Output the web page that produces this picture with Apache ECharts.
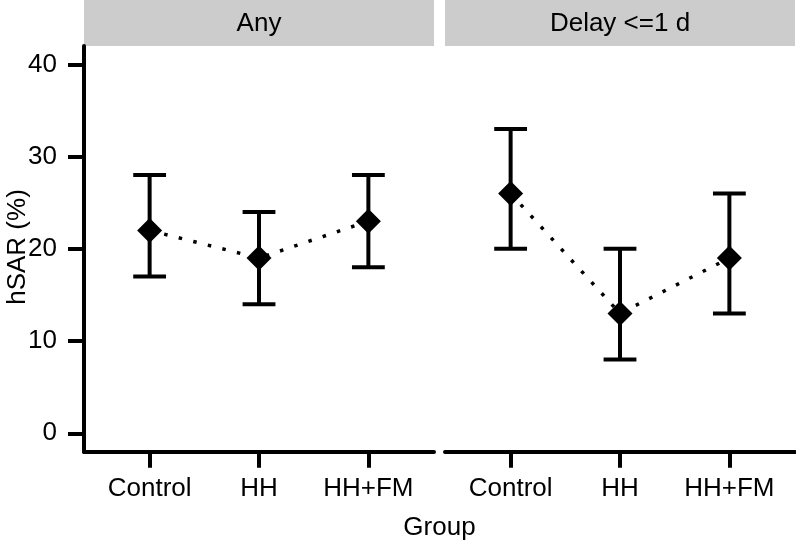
<!DOCTYPE html>
<html>
<head>
<meta charset="utf-8">
<script src="https://cdn.jsdelivr.net/npm/echarts@6/dist/echarts.min.js"></script>
<style>
html,body{margin:0;padding:0;background:#fff;}
#chart{width:796px;height:546px;}
</style>
</head>
<body>
<div id="chart"></div>
<script>
// ---- data ----
const categories = ['Control', 'HH', 'HH+FM'];
const panels = ['Any', 'Delay <=1 d'];
const anyEst = [22, 19, 23];
const anyLow = [17, 14, 18];
const anyHigh = [28, 24, 28];
const delayEst = [26, 13, 19];
const delayLow = [20, 8, 13];
const delayHigh = [33, 20, 26];
const yTicks = [0, 10, 20, 30, 40];
const xTitle = 'Group';
const yTitle = 'hSAR (%)';

// ---- layout ----
const FONT = '"Liberation Sans", Arial, Helvetica, sans-serif';
const FS = 26;
const LW = 4;
const gridTop = 46, gridBottom = 94.3, gridW = 350;
const grids = [
  { left: 84, top: gridTop, width: gridW, bottom: gridBottom },
  { left: 445, top: gridTop, width: gridW, bottom: gridBottom }
];
const catIdx = categories.map((c, i) => i + 1);

function xAxis(gi) {
  return {
    type: 'value', gridIndex: gi, min: 0.4, max: 3.6,
    axisLine: { show: true, onZero: false, lineStyle: { color: '#000', width: LW } },
    axisTick: { show: true, customValues: catIdx, length: 16, lineStyle: { color: '#000', width: LW } },
    axisLabel: {
      show: true, customValues: catIdx, margin: 24,
      formatter: v => categories[Math.round(v) - 1],
      color: '#000', fontSize: FS, fontFamily: FONT
    },
    splitLine: { show: false }
  };
}
function yAxis(gi, visible) {
  return {
    type: 'value', gridIndex: gi, min: -2, max: 42,
    axisLine: { show: visible, onZero: false, lineStyle: { color: '#000', width: LW } },
    axisTick: { show: visible, customValues: yTicks, length: 16, lineStyle: { color: '#000', width: LW } },
    axisLabel: { show: visible, customValues: yTicks, margin: 27, color: '#000', fontSize: FS, fontFamily: FONT },
    splitLine: { show: false }
  };
}

function renderErr(params, api) {
  const x = api.value(0), lo = api.value(1), hi = api.value(2);
  const pLo = api.coord([x, lo]);
  const pHi = api.coord([x, hi]);
  const hw = api.size([0.3, 0])[0] / 2;
  const style = { stroke: '#000', lineWidth: LW, fill: null };
  return {
    type: 'group',
    children: [
      { type: 'line', shape: { x1: pLo[0], y1: pLo[1], x2: pHi[0], y2: pHi[1] }, style },
      { type: 'line', shape: { x1: pLo[0] - hw, y1: pLo[1], x2: pLo[0] + hw, y2: pLo[1] }, style },
      { type: 'line', shape: { x1: pHi[0] - hw, y1: pHi[1], x2: pHi[0] + hw, y2: pHi[1] }, style }
    ]
  };
}

const panelData = [
  { est: anyEst, low: anyLow, high: anyHigh },
  { est: delayEst, low: delayLow, high: delayHigh }
];

const series = [];
panelData.forEach((p, gi) => {
  series.push({
    type: 'line', xAxisIndex: gi, yAxisIndex: gi, z: 1,
    data: p.est.map((v, i) => [catIdx[i], v]),
    symbol: 'none', silent: true,
    lineStyle: { color: '#000', width: 3.5, type: [3.5, 11.5], cap: 'butt', opacity: 1 }
  });
  series.push({
    type: 'custom', xAxisIndex: gi, yAxisIndex: gi, z: 2,
    data: p.est.map((v, i) => [catIdx[i], p.low[i], p.high[i]]),
    encode: { x: 0, y: [1, 2] },
    renderItem: renderErr
  });
  series.push({
    type: 'scatter', xAxisIndex: gi, yAxisIndex: gi, z: 3,
    data: p.est.map((v, i) => [catIdx[i], v]),
    symbol: 'diamond', symbolSize: [25, 25],
    itemStyle: { color: '#000', opacity: 1 }
  });
});

const graphics = [];
grids.forEach((g, gi) => {
  graphics.push({
    type: 'rect', left: g.left, top: 0, z: 0,
    shape: { width: g.width, height: gridTop },
    style: { fill: '#CCCCCC' }, silent: true
  });
  graphics.push({
    type: 'text', x: g.left + g.width / 2, y: 24, z: 1,
    style: { text: panels[gi], fill: '#000', font: FS + 'px ' + FONT, textAlign: 'center', textVerticalAlign: 'middle' },
    silent: true
  });
});
graphics.push({
  type: 'text', x: (grids[0].left + grids[1].left + grids[1].width) / 2, y: 528,
  style: { text: xTitle, fill: '#000', font: FS + 'px ' + FONT, textAlign: 'center', textVerticalAlign: 'middle' },
  silent: true
});
graphics.push({
  type: 'text', x: 18, y: 247, rotation: Math.PI / 2,
  style: { text: yTitle, fill: '#000', font: FS + 'px ' + FONT, textAlign: 'center', textVerticalAlign: 'middle' },
  silent: true
});

const chart = echarts.init(document.getElementById('chart'), null, { renderer: 'canvas' });
chart.setOption({
  animation: false,
  backgroundColor: '#fff',
  grid: grids,
  xAxis: [xAxis(0), xAxis(1)],
  yAxis: [yAxis(0, true), yAxis(1, false)],
  series: series,
  graphic: graphics
});
</script>
</body>
</html>
